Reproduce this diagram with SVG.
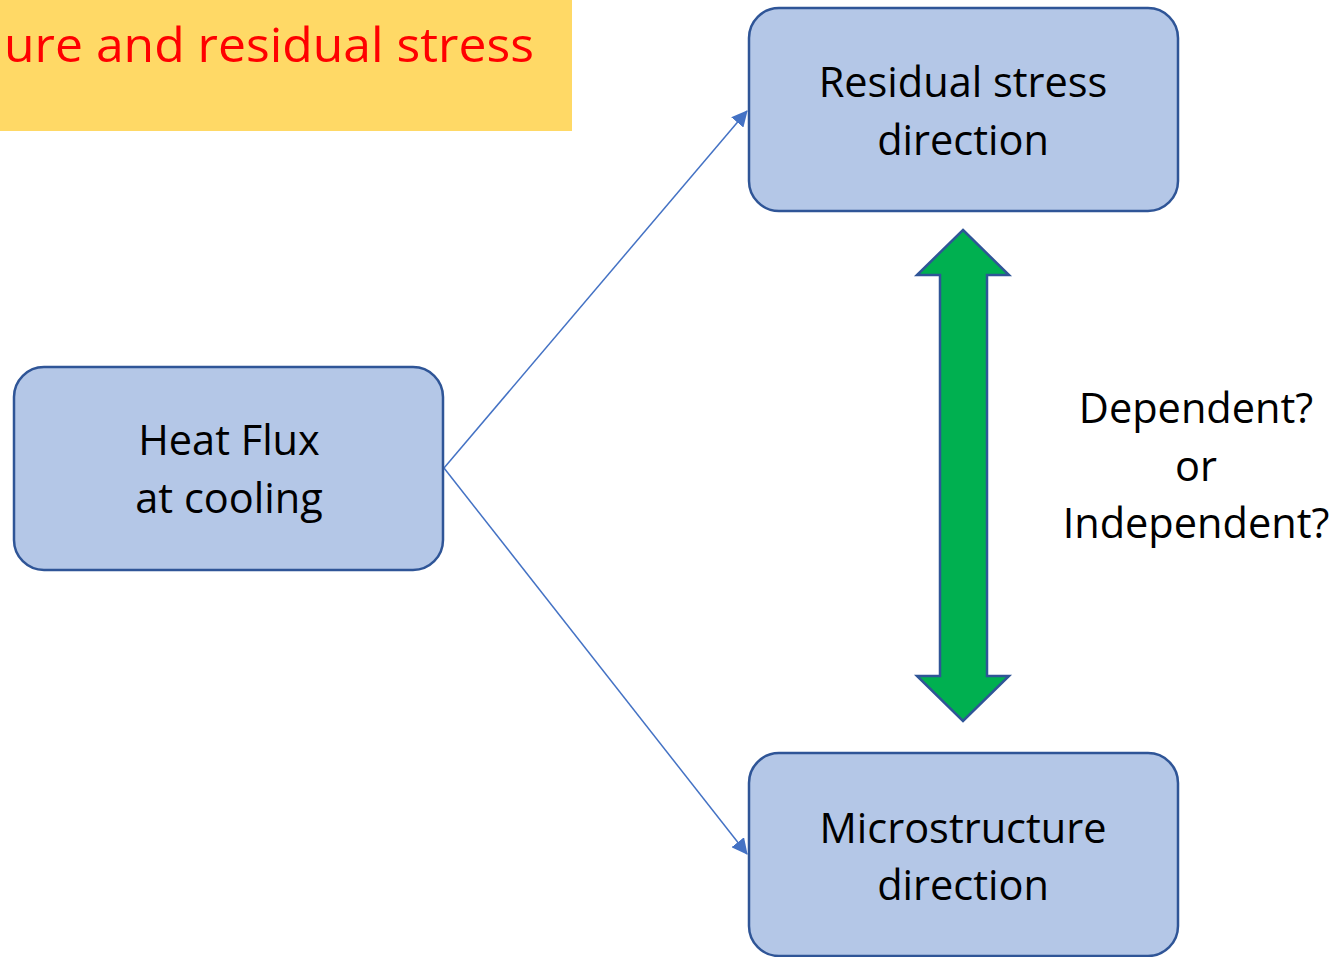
<svg xmlns="http://www.w3.org/2000/svg" width="1339" height="957" viewBox="0 0 1339 957">
<defs>
<style>
.box{fill:#B4C7E7;stroke:#2F5597;stroke-width:2.5}
.t{font-family:"Open Sans","Noto Sans","Liberation Sans",sans-serif;font-size:41.5px;fill:#000;text-anchor:middle}
.conn{stroke:#4472C4;stroke-width:1.5;fill:none}
</style>
<marker id="ahb" markerWidth="16" markerHeight="16" refX="15" refY="8" orient="auto" markerUnits="userSpaceOnUse" viewBox="0 0 16 16">
<path d="M0,0 L16,8 L0,16 z" fill="#4472C4"/>
</marker>
</defs>
<rect width="1339" height="957" fill="#fff"/>
<g id="title">
<rect x="0" y="0" width="572" height="131" fill="#FFD966"/>
<text x="4" y="62" font-family="'Open Sans','Noto Sans','Liberation Sans',sans-serif" font-size="47" fill="#FF0000" textLength="530" lengthAdjust="spacingAndGlyphs">ure and residual stress</text>
</g>
<g id="connectors">
<line class="conn" x1="444" y1="468" x2="747" y2="111" marker-end="url(#ahb)"/>
<line class="conn" x1="444" y1="468" x2="747" y2="854" marker-end="url(#ahb)"/>
<path d="M963,230 L1009,275 L987,275 L987,676 L1009,676 L963,721 L917,676 L940,676 L940,275 L917,275 Z" fill="#00B050" stroke="#2F5597" stroke-width="2.5" stroke-linejoin="miter"/>
</g>
<g id="residual">
<rect class="box" x="749" y="8" width="429" height="203" rx="30"/>
<text class="t" x="963" y="97">Residual stress</text>
<text class="t" x="963" y="155">direction</text>
</g>
<g id="heat">
<rect class="box" x="14" y="367" width="429" height="203" rx="30"/>
<text class="t" x="229" y="455">Heat Flux</text>
<text class="t" x="229" y="513">at cooling</text>
</g>
<g id="micro">
<rect class="box" x="749" y="753" width="429" height="203" rx="30"/>
<text class="t" x="963" y="843">Microstructure</text>
<text class="t" x="963" y="900">direction</text>
</g>
<g id="label">
<text class="t" x="1196" y="423">Dependent?</text>
<text class="t" x="1196" y="481">or</text>
<text class="t" x="1196" y="538">Independent?</text>
</g>
</svg>
